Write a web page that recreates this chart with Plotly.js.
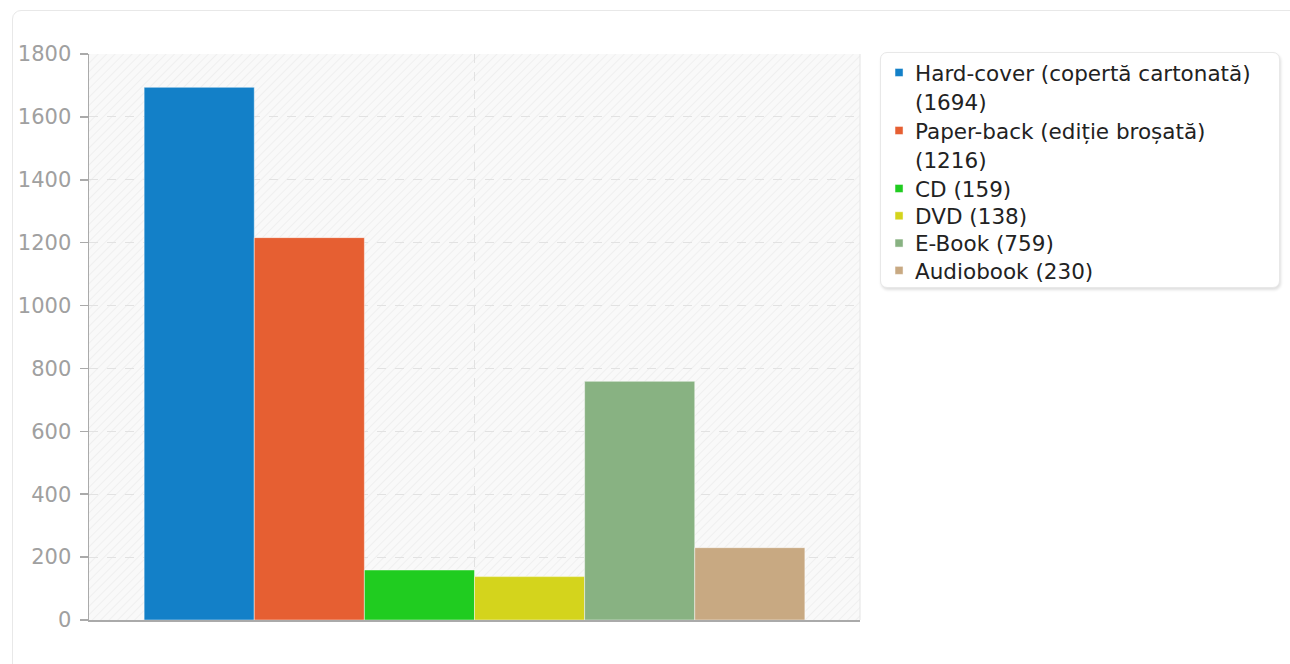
<!DOCTYPE html>
<html>
<head>
<meta charset="utf-8">
<script src="https://cdn.plot.ly/plotly-3.0.1.min.js"></script>
<style>
  html, body { margin: 0; padding: 0; width: 1290px; height: 664px; overflow: hidden; background: #fff; }
  #panel { position: absolute; left: 12px; top: 10px; width: 1320px; height: 720px;
           border: 1px solid #e8e8e8; border-radius: 9px; box-sizing: border-box; }
  #legbox { position: absolute; left: 880px; top: 52px; width: 400px; height: 236px;
            border: 1px solid #e8e8e8; border-radius: 7px; box-sizing: border-box;
            box-shadow: 1px 2px 3px rgba(0,0,0,0.13); background: #fff; }
  #chart { position: absolute; left: 0; top: 0; width: 1290px; height: 664px; }
</style>
</head>
<body>
<div id="panel"></div>
<div id="legbox"></div>
<div id="chart"></div>
<script>
const categories = ['Hard-cover (copertă cartonată)', 'Paper-back (ediție broșată)', 'CD', 'DVD', 'E-Book', 'Audiobook'];
const values = [1694, 1216, 159, 138, 759, 230];
const colors = ['#1380c8', '#e65f32', '#20cc20', '#d4d41c', '#88b282', '#c8a982'];
const groupLabel = ['Format'];
const yTicks = [0, 200, 400, 600, 800, 1000, 1200, 1400, 1600, 1800];

const traces = categories.map((c, i) => ({
  type: 'bar',
  x: groupLabel,
  y: [values[i]],
  name: c.length > 20 ? c + '<br>(' + values[i] + ')' : c + ' (' + values[i] + ')',
  marker: { color: colors[i], line: { color: 'rgba(255,255,255,0.45)', width: 1 } },
  hoverinfo: 'skip'
}));

const hatch = "<svg xmlns='http://www.w3.org/2000/svg' width='771' height='566'>" +
  "<defs><pattern id='p' width='6' height='6' patternUnits='userSpaceOnUse' patternTransform='rotate(45)'>" +
  "<line x1='0' y1='0' x2='0' y2='6' stroke='#ebebeb' stroke-width='1.4'/></pattern></defs>" +
  "<rect width='100%' height='100%' fill='#f9f9f9'/><rect width='100%' height='100%' fill='url(#p)'/></svg>";

const layout = {
  width: 1290, height: 664,
  margin: { l: 89, r: 430, t: 54, b: 44, pad: 0 },
  paper_bgcolor: 'rgba(0,0,0,0)',
  plot_bgcolor: '#f9f9f9',
  font: { family: 'DejaVu Sans', size: 21, color: '#999' },
  barmode: 'group',
  bargap: 0.143,
  bargroupgap: 0,
  showlegend: true,
  legend: {
    x: 1.0195, xanchor: 'left', y: 1.0, yanchor: 'top',
    bgcolor: 'rgba(0,0,0,0)', borderwidth: 0, valign: 'top',
    font: { family: 'DejaVu Sans', size: 21.5, color: '#222' },
    traceorder: 'normal'
  },
  xaxis: {
    type: 'category',
    showticklabels: false, ticks: '',
    showgrid: true, gridcolor: '#e2e2e2', griddash: 'dash', gridwidth: 1,
    showline: true, linecolor: '#aaa', linewidth: 1.5,
    zeroline: false, fixedrange: true
  },
  yaxis: {
    range: [0, 1800], tickvals: yTicks, ticktext: yTicks.map(String),
    ticks: 'outside', ticklen: 8, tickcolor: '#aaa', tickwidth: 1.5,
    showline: true, linecolor: '#aaa', linewidth: 1.5,
    showgrid: true, gridcolor: '#e2e2e2', griddash: 'dash', gridwidth: 1,
    zeroline: false,
    tickfont: { family: 'DejaVu Sans', size: 21, color: '#a0a0a0' },
    ticklabelstandoff: 4
  },
  images: [{
    source: 'data:image/svg+xml;charset=utf-8,' + encodeURIComponent(hatch),
    xref: 'paper', yref: 'paper', x: 0, y: 1, sizex: 1, sizey: 1,
    sizing: 'stretch', layer: 'below', xanchor: 'left', yanchor: 'top'
  }],
  shapes: [{
    type: 'line', xref: 'paper', yref: 'paper', x0: 1, x1: 1, y0: 0, y1: 1,
    line: { color: '#e4e4e4', width: 1 }
  }]
};

Plotly.newPlot('chart', traces, layout, { staticPlot: true, displayModeBar: false }).then(gd => {
  // Re-pitch legend entries to match the reference spacing
  const items = Array.from(gd.querySelectorAll('.legend .traces'));
  if (!items.length) return;
  const parse = el => {
    const m = /translate\(\s*([-\d.]+)[ ,]+([-\d.]+)/.exec(el.getAttribute('transform') || '');
    return m ? [parseFloat(m[1]), parseFloat(m[2])] : [0, 0];
  };
  const firstLineCenter = el => {
    const t = el.querySelector('.legendtext');
    const ts = t.querySelectorAll('tspan.line');
    const r = (ts.length ? ts[0] : t).getBoundingClientRect();
    return (r.top + r.bottom) / 2;
  };
  const pitchLine = 29.5;
  let target = firstLineCenter(items[0]) - 2;
  items.forEach(el => {
    const ts = el.querySelectorAll('.legendtext tspan.line');
    const n = Math.max(ts.length, 1);
    const [tx, ty] = parse(el);
    const cur = firstLineCenter(el);
    el.setAttribute('transform', 'translate(' + tx + ',' + (ty + target - cur) + ')');
    ts.forEach((t, k) => { if (k > 0) t.setAttribute('dy', pitchLine + 'px'); });
    target += n > 1 ? 58 : 27.3;
  });
  gd.querySelectorAll('.legend .legendpoints path').forEach(p => {
    p.setAttribute('d', 'M8,4H0V-4H8Z');
  });
});
</script>
</body>
</html>
